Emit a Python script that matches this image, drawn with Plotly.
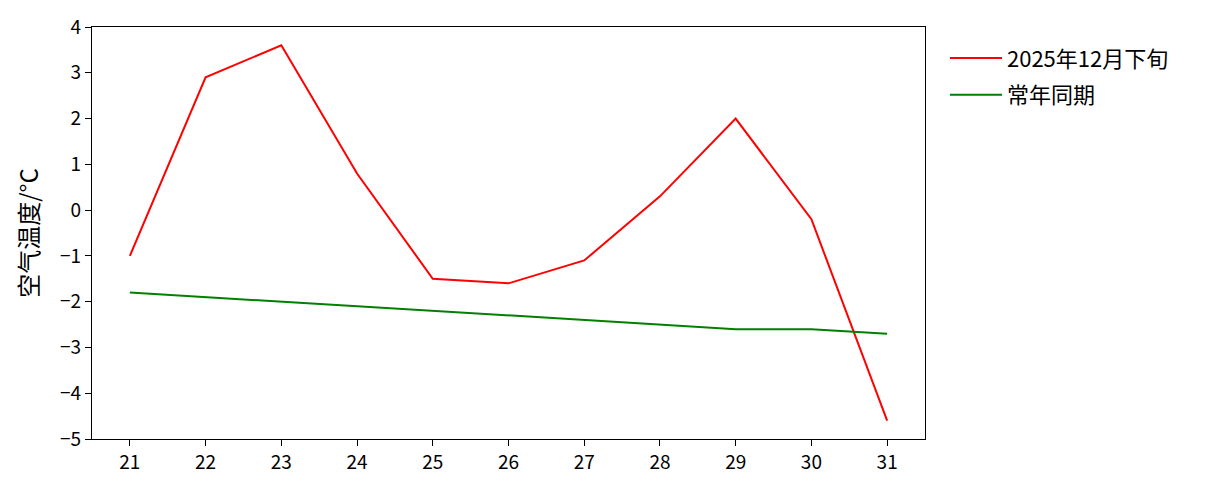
import plotly.graph_objects as go

# Données
jours = [21, 22, 23, 24, 25, 26, 27, 28, 29, 30, 31]
temp_2025 = [-1.0, 2.9, 3.6, 0.8, -1.5, -1.6, -1.1, 0.3, 2.0, -0.2, -4.6]
temp_normale = [-1.8, -1.9, -2.0, -2.1, -2.2, -2.3, -2.4, -2.5, -2.6, -2.6, -2.7]
noms = ["2025年12月下旬", "常年同期"]
y_ticks = [4, 3, 2, 1, 0, -1, -2, -3, -4, -5]

police = "Noto Sans CJK SC, Noto Sans, sans-serif"

fig = go.Figure()
fig.add_trace(go.Scatter(x=jours, y=temp_2025, mode="lines", legendgroup="a",
                         line=dict(color="#ff0000", width=2), name=noms[0]))
fig.add_trace(go.Scatter(x=jours, y=temp_normale, mode="lines", legendgroup="b",
                         line=dict(color="#008000", width=2), name=noms[1]))

# La page ajoute une marge de 8 px autour du graphique
fig.update_layout(
    width=1206,
    height=480,
    margin=dict(l=84, r=289, t=19, b=49),
    paper_bgcolor="white",
    plot_bgcolor="white",
    font=dict(family=police, size=19, color="black"),
    showlegend=True,
    legend=dict(x=1.024, y=0.975, xanchor="left", yanchor="top",
                font=dict(size=22), tracegroupgap=5, itemwidth=52,
                bgcolor="rgba(0,0,0,0)"),
)
fig.update_xaxes(
    range=[20.5, 31.5],
    tickvals=jours,
    ticktext=[str(j) for j in jours],
    ticks="outside", ticklen=6, tickwidth=1.3, tickcolor="black",
    showline=True, linecolor="black", linewidth=1.3, mirror=True,
    showgrid=False, zeroline=False, automargin=False,
)
fig.update_yaxes(
    range=[-5, 4],
    tickvals=y_ticks,
    ticktext=[str(v).replace("-", "\u2212") for v in y_ticks],
    ticks="outside", ticklen=6, tickwidth=1.3, tickcolor="black",
    showline=True, linecolor="black", linewidth=1.3, mirror=True,
    showgrid=False, zeroline=False, automargin=False,
    title=dict(text="空气温度/°C", font=dict(size=24), standoff=14),
)

fig.write_html("out.html")
